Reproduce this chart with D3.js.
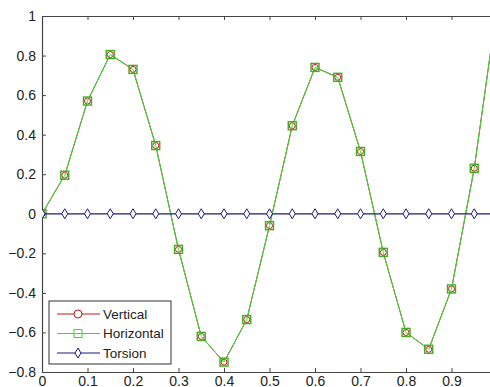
<!DOCTYPE html>
<html>
<head>
<meta charset="utf-8">
<script src="https://cdn.jsdelivr.net/npm/d3@7"></script>
<style>
  body { margin: 0; background: #fff; overflow: hidden; }
  svg { display: block; }
  text { font-family: "Liberation Sans", Arial, sans-serif; font-size: 13px; fill: #222; }
</style>
</head>
<body>
<div id="chart"></div>
<script>
// sample positions along the span
var positions = [0, 0.05, 0.1, 0.15, 0.2, 0.25, 0.3, 0.35, 0.4, 0.45, 0.5,
                 0.55, 0.6, 0.65, 0.7, 0.75, 0.8, 0.85, 0.9, 0.95, 1.0];
var horizontal = [0, 0.195, 0.57, 0.805, 0.73, 0.345, -0.18, -0.62, -0.75, -0.535, -0.06,
                  0.445, 0.74, 0.69, 0.315, -0.195, -0.6, -0.685, -0.38, 0.23, 1.05];
var vertical = horizontal.slice();
var torsion = [0, 0, 0, 0, 0, 0, 0, 0, 0, 0, 0, 0, 0, 0, 0, 0, 0, 0, 0, 0, 0];
var xTicks = [0, 0.1, 0.2, 0.3, 0.4, 0.5, 0.6, 0.7, 0.8, 0.9, 1];
var yTicks = [-0.8, -0.6, -0.4, -0.2, 0, 0.2, 0.4, 0.6, 0.8, 1];
var seriesNames = ['Vertical', 'Horizontal', 'Torsion'];

var width = 490, height = 387;
var plotLeft = 42, plotRight = 497, plotTop = 16, plotBottom = 372;

var svg = d3.select('#chart').append('svg')
  .attr('width', width)
  .attr('height', height);

var x = d3.scaleLinear().domain([0, 1]).range([plotLeft, plotRight]);
var y = d3.scaleLinear().domain([-0.8, 1]).range([plotBottom, plotTop]);

svg.append('clipPath').attr('id', 'plot-clip')
  .append('rect')
  .attr('x', plotLeft).attr('y', plotTop)
  .attr('width', plotRight - plotLeft).attr('height', plotBottom - plotTop);

var fmt = function (d) { return d === 0 ? '0' : (d === 1 ? '1' : d3.format('.1f')(d)); };

// axes, MATLAB style with inward ticks
var axisColor = '#444';
var gx = svg.append('g').attr('transform', 'translate(0,' + plotBottom + ')')
  .call(d3.axisBottom(x).tickValues(xTicks).tickSizeInner(-4).tickSizeOuter(0).tickPadding(4).tickFormat(fmt));
var gxTop = svg.append('g').attr('transform', 'translate(0,' + plotTop + ')')
  .call(d3.axisTop(x).tickValues(xTicks).tickSizeInner(-4).tickSizeOuter(0).tickFormat(''));
var gy = svg.append('g').attr('transform', 'translate(' + plotLeft + ',0)')
  .call(d3.axisLeft(y).tickValues(yTicks).tickSizeInner(-4).tickSizeOuter(0).tickPadding(6).tickFormat(fmt));

[gx, gxTop, gy].forEach(function (g) {
  g.select('.domain').attr('stroke', axisColor).attr('stroke-width', 1.2);
  g.selectAll('.tick line').attr('stroke', axisColor);
  g.selectAll('.tick text').attr('fill', '#222')
    .style('font-family', '"Liberation Sans", Arial, sans-serif').style('font-size', '14px');
});

var plot = svg.append('g').attr('clip-path', 'url(#plot-clip)');

var line = d3.line()
  .x(function (d, i) { return x(positions[i]); })
  .y(function (d) { return y(d); });

var colors = { Vertical: '#c01818', Horizontal: '#33dd33', Torsion: '#1a1a80' };
var diamond = function (s) {
  return 'M0,' + (-s) + 'L' + (s * 0.6) + ',0L0,' + s + 'L' + (-s * 0.6) + ',0Z';
};

// Vertical (hidden beneath Horizontal except for its circles)
plot.append('path').datum(vertical)
  .attr('d', line).attr('fill', 'none').attr('stroke', colors.Vertical);
plot.selectAll('.vert').data(vertical).enter().append('circle')
  .attr('cx', function (d, i) { return x(positions[i]); })
  .attr('cy', function (d) { return y(d); })
  .attr('r', 3).attr('fill', '#fff').attr('stroke', colors.Vertical);

// Horizontal
plot.append('path').datum(horizontal)
  .attr('d', line).attr('fill', 'none').attr('stroke', colors.Horizontal);
plot.selectAll('.horz').data(horizontal).enter().append('rect')
  .attr('x', function (d, i) { return x(positions[i]) - 4; })
  .attr('y', function (d) { return y(d) - 4; })
  .attr('width', 8).attr('height', 8)
  .attr('fill', 'none').attr('stroke', '#44aa22').attr('stroke-width', 1.4);

// Torsion
plot.append('path').datum(torsion)
  .attr('d', line).attr('fill', 'none').attr('stroke', colors.Torsion).attr('stroke-width', 1.2);
plot.selectAll('.tors').data(torsion).enter().append('path')
  .attr('transform', function (d, i) { return 'translate(' + x(positions[i]) + ',' + y(d) + ')'; })
  .attr('d', diamond(5)).attr('fill', '#fff').attr('stroke', colors.Torsion);

// legend
var legend = svg.append('g').attr('transform', 'translate(49,301)');
legend.append('rect')
  .attr('width', 122).attr('height', 63)
  .attr('fill', '#fff').attr('stroke', '#333');

var row = legend.selectAll('g.row')
  .data(seriesNames).enter()
  .append('g')
  .attr('transform', function (d, i) { return 'translate(0,' + (13 + i * 19.5) + ')'; });

row.append('line')
  .attr('x1', 8).attr('x2', 51).attr('y1', 0).attr('y2', 0)
  .attr('stroke', function (d) { return colors[d]; });

row.each(function (d) {
  var g = d3.select(this);
  if (d === 'Vertical') {
    g.append('circle').attr('cx', 29).attr('cy', 0).attr('r', 4)
      .attr('fill', '#fff').attr('stroke', colors[d]);
  } else if (d === 'Horizontal') {
    g.append('rect').attr('x', 25).attr('y', -4).attr('width', 8).attr('height', 8)
      .attr('fill', 'none').attr('stroke', colors[d]);
  } else {
    g.append('path').attr('transform', 'translate(29,0)').attr('d', diamond(5))
      .attr('fill', '#fff').attr('stroke', colors[d]);
  }
});

row.append('text')
  .attr('x', 54)
  .attr('dy', '0.35em')
  .style('font-size', '13.5px')
  .text(function (d) { return d; });
</script>
</body>
</html>
